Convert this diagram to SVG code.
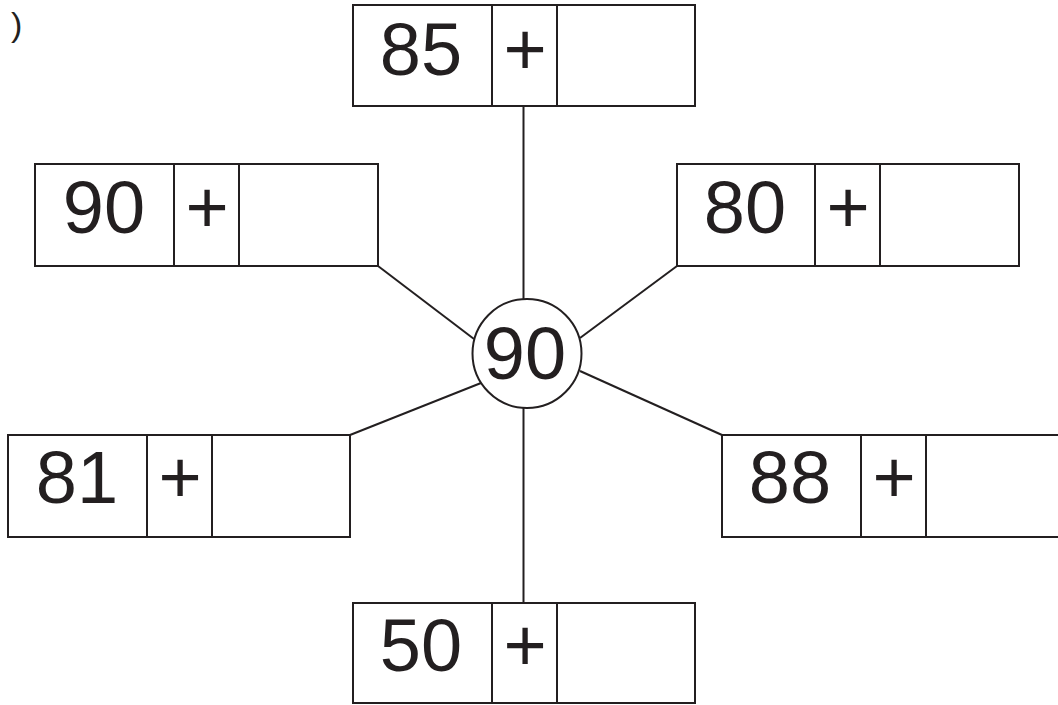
<svg xmlns="http://www.w3.org/2000/svg" width="1058" height="705" viewBox="0 0 1058 705">
<style>
.b{fill:#fff;stroke:#231f20;stroke-width:2}
.c{stroke:#231f20;stroke-width:2;fill:none}
.t{font-family:"Liberation Sans",Arial,sans-serif;font-size:74px;fill:#231f20;text-anchor:middle}
</style>
<rect width="1058" height="705" fill="#fff"/>
<text x="11" y="36" style="font-family:'Liberation Sans',Arial,sans-serif;font-size:34px;fill:#231f20">)</text>
<g id="connectors">
<line class="c" x1="523.5" y1="106" x2="523.5" y2="300"/>
<line class="c" x1="523.5" y1="407" x2="523.5" y2="603"/>
<line class="c" x1="378" y1="266" x2="474" y2="339"/>
<line class="c" x1="677" y1="266" x2="580" y2="338"/>
<line class="c" x1="350" y1="435" x2="481" y2="383"/>
<line class="c" x1="722" y1="435" x2="580" y2="371"/>
</g>
<g id="center">
<circle class="b" cx="527" cy="353.5" r="54.5"/>
<text class="t" x="525" y="379">90</text>
</g>
<g id="box85">
<rect class="b" x="353" y="5" width="342" height="101"/>
<line class="c" x1="492" y1="5" x2="492" y2="106"/>
<line class="c" x1="557" y1="5" x2="557" y2="106"/>
<text class="t" x="421" y="75">85</text>
<text class="t" x="525" y="75">+</text>
</g>
<g id="box90">
<rect class="b" x="35" y="164" width="343" height="102"/>
<line class="c" x1="174" y1="164" x2="174" y2="266"/>
<line class="c" x1="239" y1="164" x2="239" y2="266"/>
<text class="t" x="104" y="233">90</text>
<text class="t" x="207" y="233">+</text>
</g>
<g id="box80">
<rect class="b" x="677" y="164" width="342" height="102"/>
<line class="c" x1="815" y1="164" x2="815" y2="266"/>
<line class="c" x1="880" y1="164" x2="880" y2="266"/>
<text class="t" x="745" y="233">80</text>
<text class="t" x="848" y="233">+</text>
</g>
<g id="box81">
<rect class="b" x="8" y="435" width="342" height="102"/>
<line class="c" x1="147" y1="435" x2="147" y2="537"/>
<line class="c" x1="212" y1="435" x2="212" y2="537"/>
<text class="t" x="77" y="503">81</text>
<text class="t" x="180" y="503">+</text>
</g>
<g id="box88">
<rect class="b" x="722" y="435" width="342" height="102"/>
<line class="c" x1="861" y1="435" x2="861" y2="537"/>
<line class="c" x1="926" y1="435" x2="926" y2="537"/>
<text class="t" x="790" y="503">88</text>
<text class="t" x="894" y="503">+</text>
</g>
<g id="box50">
<rect class="b" x="353" y="603" width="342" height="100"/>
<line class="c" x1="492" y1="603" x2="492" y2="703"/>
<line class="c" x1="557" y1="603" x2="557" y2="703"/>
<text class="t" x="421" y="671">50</text>
<text class="t" x="525" y="671">+</text>
</g>
</svg>
